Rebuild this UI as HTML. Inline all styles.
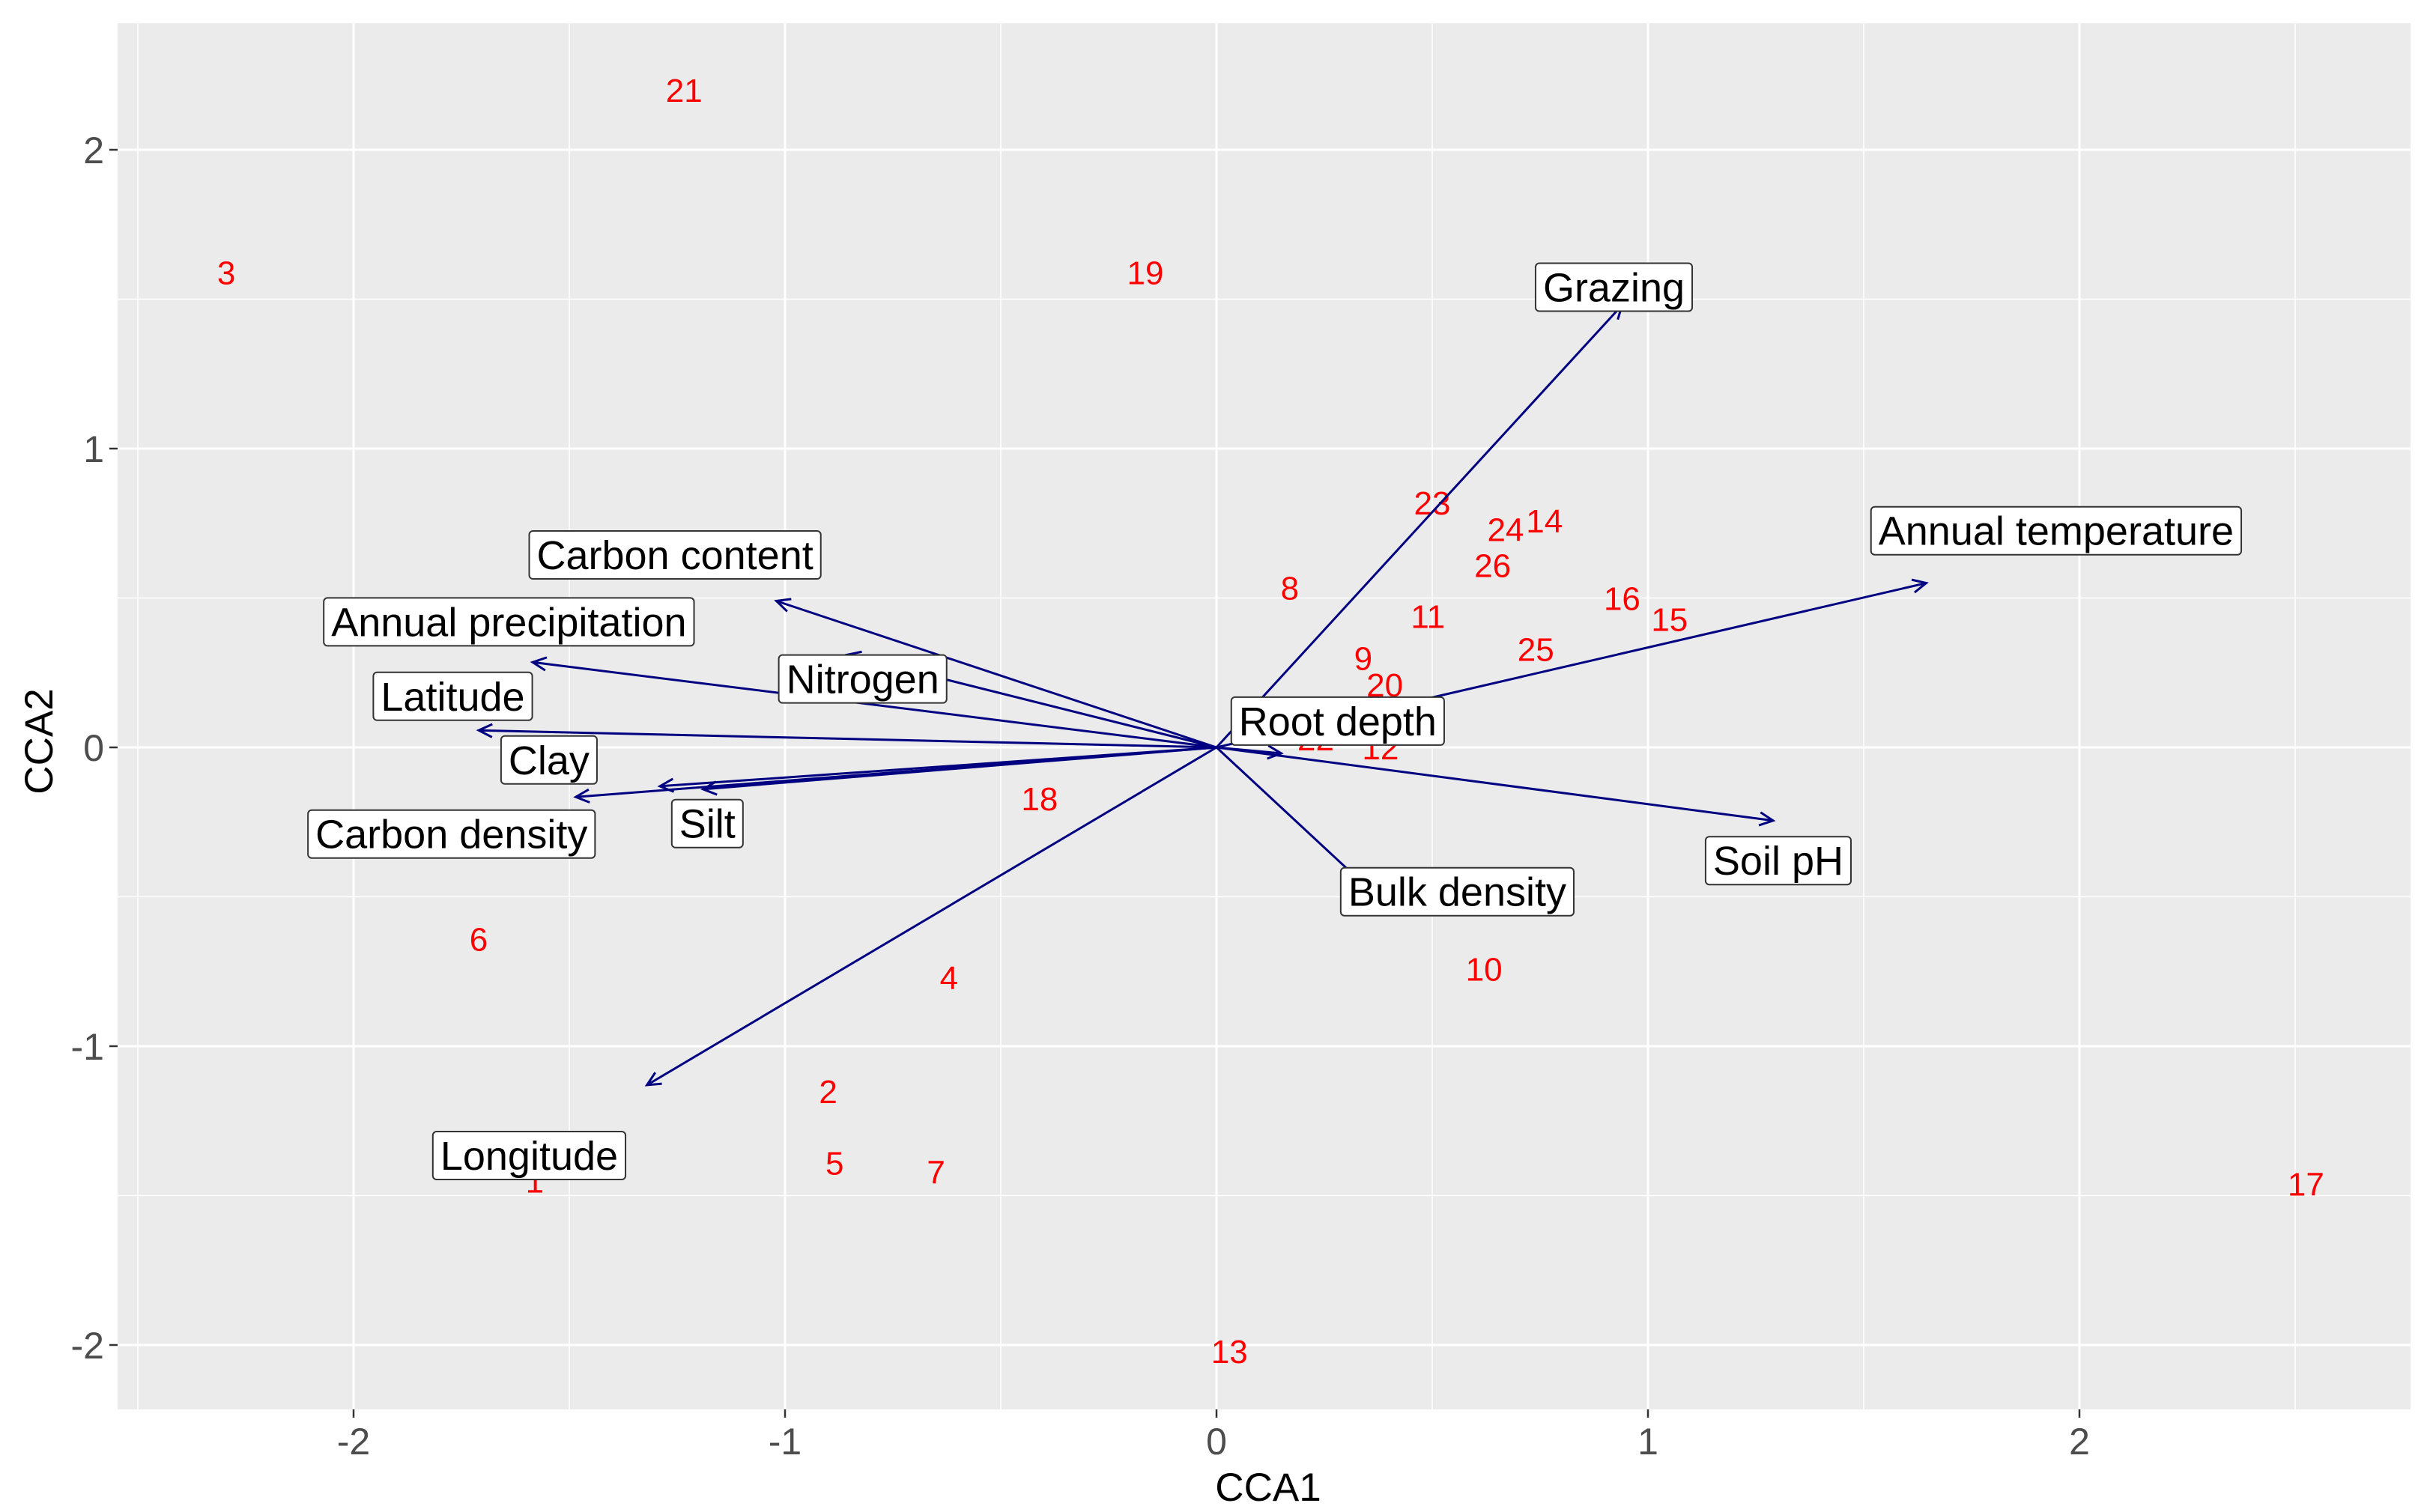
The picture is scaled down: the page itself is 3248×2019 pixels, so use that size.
<!DOCTYPE html>
<html><head><meta charset="utf-8"><style>
html,body{margin:0;padding:0;background:#fff}
svg{display:block}
text{font-family:"Liberation Sans",Arial,sans-serif}
</style></head><body>
<svg id="chart" width="3248" height="2019" viewBox="0 0 3248 2019" xmlns="http://www.w3.org/2000/svg">
<rect x="0" y="0" width="3248" height="2019" fill="#fff"/>
<g id="panel"></g>
<text x="1693" y="2004" font-size="53" fill="#000" text-anchor="middle">CCA1</text>
<text x="0" y="0" font-size="53" fill="#000" text-anchor="middle" transform="translate(70,990) rotate(-90)">CCA2</text>
</svg>
<script>
const siteLabels = ["21","3","19","23","24","14","26","8","16","15","11","25","9","20","22","12","18","6","4","10","2","5","7","1","13","17"];
const siteX = [-1.234,-2.295,-0.165,0.50,0.67,0.76,0.64,0.17,0.94,1.05,0.49,0.74,0.34,0.39,0.23,0.38,-0.41,-1.71,-0.62,0.62,-0.90,-0.885,-0.65,-1.58,0.03,2.525];
const siteY = [2.20,1.59,1.59,0.82,0.73,0.76,0.61,0.535,0.50,0.43,0.44,0.33,0.30,0.21,0.03,0.0,-0.17,-0.64,-0.77,-0.74,-1.15,-1.39,-1.42,-1.45,-2.02,-1.46];

const varNames = ["Grazing","Annual temperature","Soil pH","Bulk density","Root depth","Carbon content","Nitrogen","Annual precipitation","Latitude","Clay","Carbon density","Silt","Longitude"];
const arrowX = [0.94,1.645,1.29,0.395,0.15,-1.02,-0.856,-1.585,-1.71,-1.29,-1.485,-1.19,-1.32];
const arrowY = [1.48,0.55,-0.245,-0.53,-0.02,0.49,0.31,0.285,0.057,-0.13,-0.166,-0.14,-1.13];
const labelX = [0.921,1.946,1.302,0.558,0.281,-1.255,-0.820,-1.64,-1.770,-1.547,-1.773,-1.18,-1.593];
const labelY = [1.54,0.725,-0.379,-0.483,0.088,0.644,0.229,0.42,0.171,-0.042,-0.29,-0.255,-1.366];

const xTicks = [-2,-1,0,1,2];
const yTicks = [-2,-1,0,1,2];
const xTickLabels = ["-2","-1","0","1","2"];
const yTickLabels = ["-2","-1","0","1","2"];

const P = {l:157, r:3218, t:31, b:1882};
const X0 = 1624, XU = 576, Y0 = 998, YU = 399;
const sx = v => X0 + v*XU;
const sy = v => Y0 - v*YU;
const NS = "http://www.w3.org/2000/svg";
const svg = document.getElementById('chart');
const panel = document.getElementById('panel');
function mk(tag, attrs, parent){
  const e = document.createElementNS(NS, tag);
  for (const k in attrs) e.setAttribute(k, attrs[k]);
  (parent||svg).appendChild(e);
  return e;
}
const bg = mk('rect',{x:P.l,y:P.t,width:P.r-P.l,height:P.b-P.t,fill:'#ebebeb'},panel);



for (let v=-2.5; v<=2.51; v+=1){
  const x = sx(v); if (x<P.l||x>P.r) continue;
  const g = mk('line',{x1:x,x2:x,y1:P.t,y2:P.b,stroke:'#fff','stroke-width':1.5},panel);
  
  
}
for (let v=-2.5; v<=2.51; v+=1){
  const y = sy(v); if (y<P.t||y>P.b) continue;
  const g = mk('line',{x1:P.l,x2:P.r,y1:y,y2:y,stroke:'#fff','stroke-width':1.5},panel);
  
  
}
xTicks.forEach((v,i)=>{
  const x = sx(v);
  const g = mk('line',{x1:x,x2:x,y1:P.t,y2:P.b,stroke:'#fff','stroke-width':3},panel);
  
  
  const t = mk('line',{x1:x,x2:x,y1:P.b,y2:P.b+11,stroke:'#333','stroke-width':2.5});
  
  
  const l = mk('text',{x:x,y:P.b+60,'font-size':50,fill:'#4d4d4d','text-anchor':'middle'});
  
  
  l.textContent = xTickLabels[i];
});
yTicks.forEach((v,i)=>{
  const y = sy(v);
  const g = mk('line',{x1:P.l,x2:P.r,y1:y,y2:y,stroke:'#fff','stroke-width':3},panel);
  
  
  const t = mk('line',{x1:P.l-11,x2:P.l,y1:y,y2:y,stroke:'#333','stroke-width':2.5});
  
  
  const l = mk('text',{x:P.l-18,y:y+18,'font-size':50,fill:'#4d4d4d','text-anchor':'end'});
  
  
  l.textContent = yTickLabels[i];
});
siteLabels.forEach((s,i)=>{
  const t = mk('text',{x:sx(siteX[i]),y:sy(siteY[i])+16,'font-size':44,fill:'#ff0000','text-anchor':'middle'});
  
  
  t.textContent = s;
});
varNames.forEach((n,i)=>{
  const x1 = sx(0), y1 = sy(0), x2 = sx(arrowX[i]), y2 = sy(arrowY[i]);
  const g = mk('g',{});
  
  
  mk('line',{x1:x1,y1:y1,x2:x2,y2:y2,stroke:'#000080','stroke-width':3},g);
  const a = Math.atan2(y2-y1,x2-x1), L = 20, w = 0.45;
  const p1 = [x2-L*Math.cos(a-w), y2-L*Math.sin(a-w)];
  const p2 = [x2-L*Math.cos(a+w), y2-L*Math.sin(a+w)];
  mk('polyline',{points:`${p1[0]},${p1[1]} ${x2},${y2} ${p2[0]},${p2[1]}`,fill:'none',stroke:'#000080','stroke-width':3},g);
});
varNames.forEach((n,i)=>{
  const cx = sx(labelX[i]), cy = sy(labelY[i]);
  const g = mk('g',{});
  
  
  const t = mk('text',{x:cx,y:cy+19,'font-size':54,fill:'#000','text-anchor':'middle'});
  t.textContent = n;
  g.appendChild(t);
  const w = t.getComputedTextLength() + 20, h = 64;
  const r = mk('rect',{x:cx-w/2,y:cy-h/2,width:w,height:h,rx:5,fill:'#fff',stroke:'#333','stroke-width':2});
  g.insertBefore(r,t);
});
</script>
</body></html>
